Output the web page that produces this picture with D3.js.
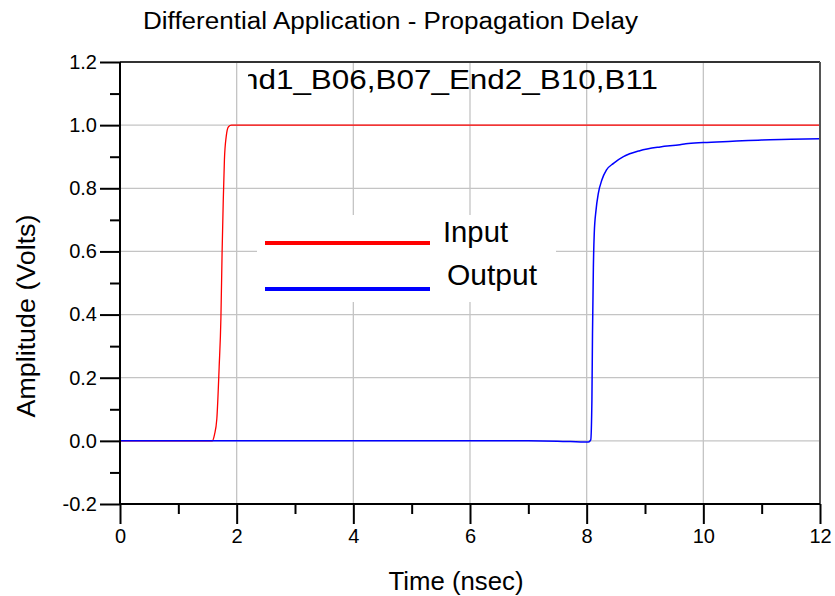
<!DOCTYPE html>
<html>
<head>
<meta charset="utf-8">
<script src="https://cdn.jsdelivr.net/npm/d3@7"></script>
<style>
  body { margin: 0; background: #fff; }
  text { font-family: "Liberation Sans", Arial, sans-serif; fill: #000; }
</style>
</head>
<body>
<script>
// time (nsec) / amplitude (V)
const inputT = [0, 1.58, 1.62, 1.66, 1.70, 1.73, 1.75, 1.77, 1.79, 1.82, 1.86, 1.91, 1.95, 12];
const inputV = [0, 0, 0.02, 0.07, 0.235, 0.39, 0.595, 0.76, 0.89, 0.963, 0.995, 1.0, 1.0, 1.0];

const outputT = [0, 7.0, 7.5, 8.03, 8.07, 8.09, 8.10, 8.115, 8.13, 8.16, 8.20, 8.26, 8.34, 8.46, 8.63, 8.91, 9.26, 9.6, 9.7, 10.0, 10.5, 11.0, 11.5, 12];
const outputV = [0, 0, -0.001, -0.004, 0.003, 0.13, 0.34, 0.55, 0.657, 0.73, 0.784, 0.826, 0.858, 0.879, 0.9, 0.919, 0.931, 0.938, 0.941, 0.945, 0.949, 0.953, 0.955, 0.957];

const xTicks = [0, 2, 4, 6, 8, 10, 12];
const yTicks = [-0.2, 0, 0.2, 0.4, 0.6, 0.8, 1.0, 1.2];

const W = 835, H = 596;
const x0 = 120, x1 = 820, yTop = 62, yBot = 504;

const svg = d3.select("body").append("svg").attr("width", W).attr("height", H);

const x = d3.scaleLinear().domain([0, 12]).range([x0, x1]);
const y = d3.scaleLinear().domain([-0.2, 1.2]).range([yBot, yTop]);

// grid
const grid = svg.append("g").attr("stroke", "#c4c4c4").attr("stroke-width", 1.3);
grid.selectAll("line.v").data(xTicks.filter(d => d > 0 && d < 12)).enter().append("line")
  .attr("x1", d => x(d)).attr("x2", d => x(d)).attr("y1", yTop).attr("y2", yBot);
grid.selectAll("line.h").data(yTicks.filter(d => d > -0.1 && d < 1.1)).enter().append("line")
  .attr("x1", x0).attr("x2", x1).attr("y1", d => y(d)).attr("y2", d => y(d));

// title
svg.append("text").attr("x", 143).attr("y", 29).attr("font-size", 23)
  .attr("textLength", 495).attr("lengthAdjust", "spacingAndGlyphs")
  .text("Differential Application - Propagation Delay");

// clipped subtitle inside plot
svg.append("clipPath").attr("id", "subclip").append("rect")
  .attr("x", 248).attr("y", yTop).attr("width", x1 - 248).attr("height", 60);
svg.append("text").attr("clip-path", "url(#subclip)")
  .attr("x", 220).attr("y", 89).attr("font-size", 27)
  .attr("textLength", 438).attr("lengthAdjust", "spacingAndGlyphs")
  .text("End1_B06,B07_End2_B10,B11");

// curves
const line = d3.line().x(d => x(d[0])).y(d => y(d[1])).curve(d3.curveMonotoneX);
const inputData = inputT.map((t, i) => [t, inputV[i]]);
const outputData = outputT.map((t, i) => [t, outputV[i]]);
svg.append("path").datum(inputData).attr("d", line)
  .attr("fill", "none").attr("stroke", "#ff0000").attr("stroke-width", 1.3);
svg.append("path").datum(outputData).attr("d", line)
  .attr("fill", "none").attr("stroke", "#0000ff").attr("stroke-width", 1.5);

// legend
const legend = svg.append("g");
legend.append("rect").attr("x", 257).attr("y", 215).attr("width", 299).attr("height", 87).attr("fill", "#fff");
const legItems = [
  { name: "Input", col: "#ff0000", ly: 243, tx: 443, ty: 242, len: 65 },
  { name: "Output", col: "#0000ff", ly: 289, tx: 447, ty: 285, len: 90 }
];
legItems.forEach(it => {
  legend.append("line").attr("x1", 265).attr("x2", 430).attr("y1", it.ly).attr("y2", it.ly)
    .attr("stroke", it.col).attr("stroke-width", 4);
  legend.append("text").attr("x", it.tx).attr("y", it.ty).attr("font-size", 29)
    .attr("textLength", it.len).attr("lengthAdjust", "spacingAndGlyphs").text(it.name);
});

// frame: top and right
svg.append("line").attr("x1", x0).attr("x2", x1).attr("y1", yTop).attr("y2", yTop)
  .attr("stroke", "#333").attr("stroke-width", 2);
svg.append("line").attr("x1", x1).attr("x2", x1).attr("y1", yTop).attr("y2", yBot)
  .attr("stroke", "#555").attr("stroke-width", 2);

// axes
const yAxis = d3.axisLeft(y).tickValues(yTicks).tickSize(20).tickPadding(3)
  .tickFormat(d => d.toFixed(1));
const gy = svg.append("g").attr("transform", `translate(${x0},0)`).call(yAxis);
const yMinor = d3.axisLeft(y).tickValues(d3.range(-0.1, 1.2, 0.2)).tickSize(10).tickFormat("");
const gym = svg.append("g").attr("transform", `translate(${x0},0)`).call(yMinor);

const xAxis = d3.axisBottom(x).tickValues(xTicks).tickSize(20).tickPadding(5);
const gx = svg.append("g").attr("transform", `translate(0,${yBot})`).call(xAxis);
const xMinor = d3.axisBottom(x).tickValues([1, 3, 5, 7, 9, 11]).tickSize(10).tickFormat("");
const gxm = svg.append("g").attr("transform", `translate(0,${yBot})`).call(xMinor);

[gy, gym, gx, gxm].forEach(g => {
  g.select(".domain").attr("stroke", "#000").attr("stroke-width", 2);
  g.selectAll(".tick line").attr("stroke", "#000").attr("stroke-width", 2);
  g.selectAll("text").attr("font-size", 20).attr("font-family", "Liberation Sans, Arial, sans-serif").attr("fill", "#000");
});
gy.select(".domain").attr("d", `M0,${yTop}V${yBot}`);
gx.select(".domain").attr("d", `M${x0},0H${x1}`);
gym.select(".domain").remove();
gxm.select(".domain").remove();

// axis titles
svg.append("text").attr("transform", "translate(35,316) rotate(-90)")
  .attr("text-anchor", "middle").attr("font-size", 26)
  .attr("textLength", 203).attr("lengthAdjust", "spacingAndGlyphs").text("Amplitude (Volts)");
svg.append("text").attr("x", 456).attr("y", 590).attr("text-anchor", "middle")
  .attr("font-size", 26).attr("textLength", 135).attr("lengthAdjust", "spacingAndGlyphs")
  .text("Time (nsec)");
</script>
</body>
</html>
